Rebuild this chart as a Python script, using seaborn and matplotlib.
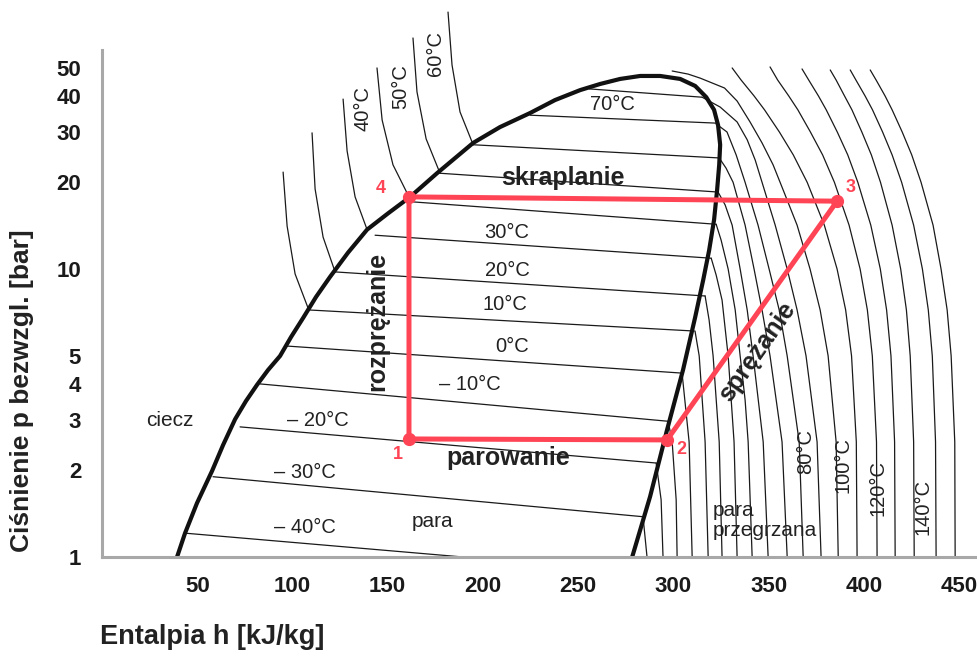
import matplotlib
matplotlib.use("Agg")
import matplotlib.pyplot as plt
import seaborn as sns
from matplotlib.ticker import FixedLocator, NullLocator

# saturation dome (liquid line up to the top, vapour line back down)
dome_h = [39.4, 43.6, 49.9, 57.8, 63.6, 69.9, 75.6, 81.4, 87.2, 93.5, 99.3,
          105.6, 112.4, 119.7, 129.2, 139.2, 150.2, 161.8, 175.9, 194.9, 209.0,
          224.8, 237.9, 251.1, 261.6, 272.1, 282.6, 293.1, 303.6, 311.5, 317.3,
          321.4, 323.5, 324.6, 324.1, 323.0, 321.4, 318.8, 315.7, 311.5, 305.1,
          296.7, 287.8, 278.4]
dome_p = [1.0, 1.21, 1.54, 1.99, 2.45, 3.01, 3.48, 3.96, 4.46, 4.99, 5.81,
          6.76, 8.0, 9.38, 11.4, 13.7, 15.6, 17.8, 21.5, 27.4, 31.1,
          34.8, 38.6, 41.8, 43.9, 45.7, 46.8, 46.8, 45.7, 43.2, 39.5,
          35.7, 31.6, 27.0, 23.0, 18.8, 14.8, 11.6, 9.16, 6.81, 4.46,
          2.76, 1.62, 1.0]

# isotherms inside the dome: start on liquid line, end on vapour line
tp_temps = [-40, -30, -20, -10, 0, 10, 20, 30, 40, 50, 60, 70, 80]
tp_h0 = [43.6, 58.3, 72.5, 83.0, 97.2, 108.2, 122.4, 143.4, 163.3, 177.5, 194.9, 224.8, 255.9]
tp_p0 = [1.21, 1.90, 2.83, 3.99, 5.40, 7.21, 9.77, 13.1, 17.1, 21.5, 27.0, 34.2, 42.2]
tp_h1 = [189.6, 284.1, 291.0, 297.3, 304.6, 311.0, 316.7, 319.9, 322.5, 323.5, 324.1, 322.5, 314.9]
tp_p1 = [1.0, 1.38, 2.12, 2.96, 4.35, 6.09, 8.06, 10.9, 14.3, 18.5, 24.3, 32.1, 39.5]

# isotherms in the liquid region (10..60 C)
liq_h = [[95.1, 97.2, 101.4, 108.2],
         [110.3, 111.9, 116.1, 122.4],
         [126.6, 128.7, 132.9, 139.2],
         [144.4, 147.1, 152.8, 161.2],
         [163.3, 165.4, 170.2, 177.5],
         [181.7, 183.8, 188.0, 194.9]]
liq_p = [[21.7, 14.1, 9.61, 7.32],
         [29.7, 18.96, 12.9, 9.77],
         [38.9, 25.7, 17.8, 13.7],
         [49.9, 32.9, 23.0, 17.8],
         [63.4, 41.2, 28.3, 21.5],
         [78.0, 51.1, 35.1, 27.0]]

# isotherms in the superheated region (-30..150 C)
sh_h = [[284.1, 286.2],
        [291.0, 293.6, 294.6],
        [297.3, 299.4, 301.5, 302.0],
        [304.6, 308.3, 309.9],
        [311.4, 313.6, 316.7, 318.3],
        [316.7, 318.8, 320.9, 324.1, 325.6],
        [319.9, 322.5, 325.6, 328.8, 330.4, 331.9, 333.5],
        [322.5, 325.1, 328.8, 332.5, 335.1, 337.7, 339.3, 341.4],
        [323.5, 327.2, 330.9, 335.1, 338.8, 341.9, 347.2, 349.8],
        [324.1, 327.7, 331.4, 337.7, 342.4, 346.6, 350.8, 357.1, 359.8],
        [322.5, 328.2, 333.0, 337.7, 344.5, 350.3, 355.6, 359.8, 366.1, 368.2],
        [315.1, 324.6, 333.5, 338.8, 343.0, 346.6, 353.5, 359.8, 365.0, 369.7, 375.5, 377.6],
        [299.4, 307.8, 314.1, 326.9, 333.5, 340.3, 346.6, 352.4, 357.7, 365.0, 371.8,
         377.1, 381.3, 385.5, 386.6],
        [330.9, 335.6, 342.4, 347.9, 355.7, 363.0, 370.3, 379.3, 386.0, 390.5, 393.6, 396.1, 396.5],
        [350.8, 354.8, 360.6, 365.4, 372.0, 378.4, 384.6, 392.3, 398.1, 401.9, 404.5, 406.7, 407.0],
        [367.6, 371.1, 376.2, 380.3, 386.1, 391.6, 396.9, 403.7, 408.7, 412.0, 414.3, 416.2, 416.5],
        [382.4, 385.5, 389.9, 393.8, 399.0, 404.0, 408.8, 414.9, 419.4, 422.4, 424.4, 426.2, 426.5],
        [392.9, 395.9, 400.7, 404.6, 409.9, 414.9, 419.9, 426.2, 430.8, 433.9, 436.0, 437.7, 438.0],
        [403.4, 406.5, 411.2, 414.9, 420.2, 425.2, 430.1, 436.4, 440.6, 443.8, 445.9, 447.8, 448.0]]
sh_p = [[1.38, 1.0],
        [2.12, 1.58, 1.0],
        [2.96, 2.51, 1.58, 1.0],
        [4.35, 2.51, 1.0],
        [6.09, 4.99, 2.51, 1.0],
        [8.06, 6.65, 4.99, 2.51, 1.0],
        [10.9, 9.53, 7.80, 4.99, 3.51, 2.51, 1.0],
        [14.3, 12.6, 10.0, 7.21, 4.99, 3.51, 2.51, 1.0],
        [18.5, 16.7, 14.2, 10.0, 7.21, 4.99, 2.51, 1.0],
        [24.3, 22.4, 20.0, 14.2, 10.0, 7.21, 4.99, 2.51, 1.0],
        [31.9, 29.9, 24.9, 20.0, 14.2, 10.0, 7.21, 4.99, 2.51, 1.0],
        [39.5, 36.5, 32.4, 28.1, 23.9, 20.0, 14.2, 10.0, 7.21, 4.99, 2.51, 1.0],
        [48.7, 47.5, 46.0, 42.5, 38.3, 32.4, 27.4, 23.0, 18.8, 14.2, 10.0,
         7.21, 4.99, 2.51, 1.0],
        [49.9, 45.3, 39.9, 35.7, 29.9, 24.9, 20.0, 14.2, 10.0, 7.21, 4.99, 2.51, 1.0],
        [50.3, 45.3, 39.9, 35.7, 29.9, 24.9, 20.0, 14.2, 10.0, 7.21, 4.99, 2.51, 1.0],
        [49.5, 45.3, 39.9, 35.7, 29.9, 24.9, 20.0, 14.2, 10.0, 7.21, 4.99, 2.51, 1.0],
        [49.1, 45.3, 39.9, 35.7, 29.9, 24.9, 20.0, 14.2, 10.0, 7.21, 4.99, 2.51, 1.0],
        [49.1, 45.3, 39.9, 35.7, 29.9, 24.9, 20.0, 14.2, 10.0, 7.21, 4.99, 2.51, 1.0],
        [49.1, 45.3, 39.9, 35.7, 29.9, 24.9, 20.0, 14.2, 10.0, 7.21, 4.99, 2.51, 1.0]]

# refrigeration cycle 1-2-3-4
cyc_h = [161.2, 296.7, 386.0, 161.2]
cyc_p = [2.57, 2.55, 17.2, 17.8]
cyc_labels = ["1", "2", "3", "4"]

x_ticks = [50, 100, 150, 200, 250, 300, 350, 400, 450]
y_ticks = [1, 2, 3, 4, 5, 10, 20, 30, 40, 50]

sns.set_style("white")
plt.rcParams["font.family"] = ["Liberation Sans", "DejaVu Sans"]

fig = plt.figure(figsize=(9.78, 6.52), dpi=100)
ax = fig.add_axes([0.1043, 0.1457, 0.8957, 0.8543])
ax.set_yscale("log")
ax.set_xlim(0, 460)
ax.set_ylim(1, 85.9)

thin = dict(color="#1a1a1a", lw=0.9, sort=False, estimator=None, ax=ax, legend=False)
for i in range(len(tp_temps)):
    sns.lineplot(x=[tp_h0[i], tp_h1[i]], y=[tp_p0[i], tp_p1[i]], **thin)
for hh, pp in zip(liq_h, liq_p):
    sns.lineplot(x=hh, y=pp, **thin)
for hh, pp in zip(sh_h, sh_p):
    sns.lineplot(x=hh, y=pp, **thin)

sns.lineplot(x=dome_h, y=dome_p, color="#111111", lw=3.0, sort=False,
             estimator=None, ax=ax, legend=False)

red = "#ff4555"
sns.lineplot(x=cyc_h + cyc_h[:1], y=cyc_p + cyc_p[:1], color=red, lw=3.6,
             sort=False, estimator=None, ax=ax, legend=False, zorder=5)
ax.plot(cyc_h, cyc_p, "o", color=red, ms=8.5, zorder=6)
lab_off = [(-8, -11), (10, -7), (10, 10), (-20, 6)]
for hh, pp, t, off in zip(cyc_h, cyc_p, cyc_labels, lab_off):
    ax.annotate(t, (hh, pp), xytext=off, textcoords="offset points",
                color=red, fontsize=13, fontweight="bold", ha="center", va="center")

txt = "#222222"
temp_labels = [("– 40°C", 106.6, 1.27), ("– 30°C", 106.6, 1.96), ("– 20°C", 113.4, 2.97),
               ("– 10°C", 193.3, 3.96), ("0°C", 215.3, 5.40), ("10°C", 211.7, 7.50),
               ("20°C", 212.7, 9.92), ("30°C", 212.7, 13.4), ("70°C", 267.9, 37.4)]
for t, hh, pp in temp_labels:
    ax.text(hh, pp, t, fontsize=14.5, color=txt, ha="center", va="center")

rot_labels = [("40°C", 137.1, 36.2), ("50°C", 157.0, 42.9), ("60°C", 174.9, 56.2),
              ("80°C", 369.7, 2.32), ("100°C", 389.2, 2.09), ("120°C", 407.6, 1.74),
              ("140°C", 431.2, 1.49)]
for t, hh, pp in rot_labels:
    ax.text(hh, pp, t, fontsize=14.5, color=txt, ha="center", va="center", rotation=90)

ax.text(35.7, 2.97, "ciecz", fontsize=15, color=txt, ha="center", va="center")
ax.text(173.3, 1.33, "para", fontsize=15, color=txt, ha="center", va="center")
ax.text(320.9, 1.34, "para\nprzegrzana", fontsize=15, color=txt, ha="left", va="center",
        linespacing=1.05)

bold = dict(fontsize=18, fontweight="bold", color=txt, ha="center", va="center")
ax.text(242.1, 20.7, "skraplanie", **bold)
ax.text(213.2, 2.21, "parowanie", **bold)
ax.text(144.4, 6.55, "rozprężanie", rotation=90, **bold)
ax.text(344.0, 5.15, "sprężanie", rotation=55, **bold)

# axes styling
for s in ["top", "right"]:
    ax.spines[s].set_visible(False)
for s in ["left", "bottom"]:
    ax.spines[s].set_color("#a8a8a8")
    ax.spines[s].set_linewidth(2.2)
ax.spines["left"].set_bounds(1, 57.6)
ax.xaxis.set_major_locator(FixedLocator(x_ticks))
ax.set_xticklabels([str(v) for v in x_ticks])
ax.yaxis.set_major_locator(FixedLocator(y_ticks))
ax.yaxis.set_minor_locator(NullLocator())
ax.set_yticklabels([str(v) for v in y_ticks])
ax.tick_params(axis="both", direction="out", length=7, width=1.3, color="#333333",
               labelsize=16, labelcolor="#1a1a1a")
ax.tick_params(axis="y", pad=8)
ax.tick_params(axis="x", pad=7)
for lab in ax.get_xticklabels() + ax.get_yticklabels():
    lab.set_fontweight("bold")

fig.text(100 / 978, 1 - 637 / 652, "Entalpia h [kJ/kg]", fontsize=19.5,
         fontweight="bold", color=txt, ha="left", va="center")
fig.text(22 / 978, 1 - 391 / 652, "Ciśnienie p bezwzgl. [bar]", fontsize=19,
         fontweight="bold", color=txt, ha="center", va="center", rotation=90)

fig.savefig("out.png", dpi=100)
